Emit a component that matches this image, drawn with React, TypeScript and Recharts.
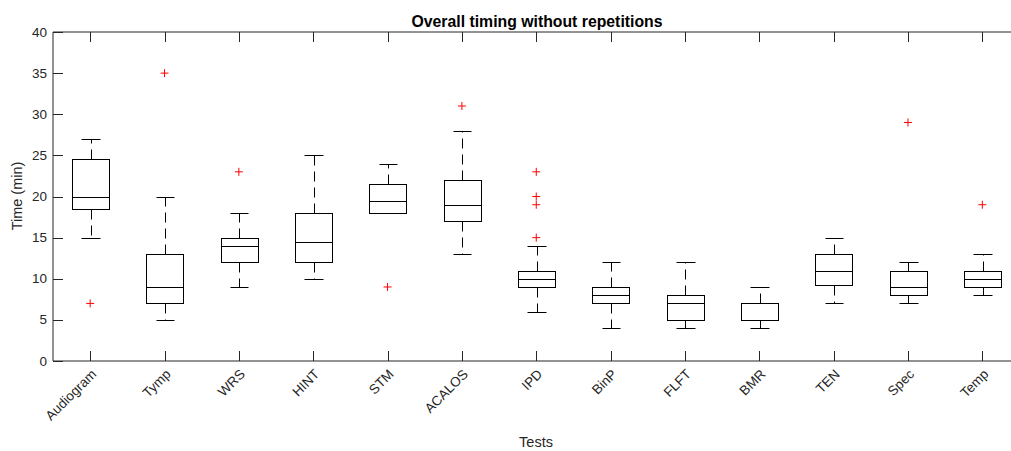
import React from "react";
import { ComposedChart, Bar, Line, XAxis, YAxis } from "recharts";

// values (minutes)
const categories = ["Audiogram", "Tymp", "WRS", "HINT", "STM", "ACALOS", "IPD", "BinP", "FLFT", "BMR", "TEN", "Spec", "Temp"];
const whiskerLow = [15, 5, 9, 10, 18, 13, 6, 4, 4, 4, 7, 7, 8];
const q1 = [18.5, 7, 12, 12, 18, 17, 9, 7, 5, 5, 9.2, 8, 9];
const median = [20, 9, 14, 14.5, 19.5, 19, 10, 8, 7, 5, 11, 9, 10];
const q3 = [24.5, 13, 15, 18, 21.5, 22, 11, 9, 8, 7, 13, 11, 11];
const whiskerHigh = [27, 20, 18, 25, 24, 28, 14, 12, 12, 9, 15, 12, 13];
const outliers = [[7], [35], [23], [], [9], [31], [23, 20, 19, 15], [], [], [], [], [29], [19]];
const yTicks = [0, 5, 10, 15, 20, 25, 30, 35, 40];

const FONT = '"Liberation Sans", Arial, sans-serif';
const INK = "#262626";
const MAX_OUT = 4;

const data = categories.map((name, i) => {
  const row: any = {
    name,
    range: [whiskerLow[i], whiskerHigh[i]],
    lo: whiskerLow[i],
    hi: whiskerHigh[i],
    q1: q1[i],
    median: median[i],
    q3: q3[i],
  };
  for (let k = 0; k < MAX_OUT; k++) row[`o${k}`] = outliers[i][k];
  return row;
});

const snap = (v: number) => Math.round(v) + 0.5;

function BoxShape(props: any) {
  const { x, y, width, height, payload } = props;
  const top = Math.min(y, y + height);
  const h = Math.abs(height);
  const k = h / (payload.hi - payload.lo);
  const py = (v: number) => snap(top + (payload.hi - v) * k);
  const cx = snap(x + width / 2);
  const left = snap(x);
  const right = snap(x + width);
  const capL = snap(x + width / 4);
  const capR = snap(x + (3 * width) / 4);
  const yHi = py(payload.hi);
  const yLo = py(payload.lo);
  const yQ3 = py(payload.q3);
  const yQ1 = py(payload.q1);
  const yMed = py(payload.median);
  return (
    <g>
      <line x1={cx} x2={cx} y1={yQ3} y2={yHi} stroke="#000" strokeDasharray="10 6" />
      <line x1={cx} x2={cx} y1={yQ1} y2={yLo} stroke="#000" strokeDasharray="10 6" />
      <line x1={capL} x2={capR} y1={yHi} y2={yHi} stroke="#000" />
      <line x1={capL} x2={capR} y1={yLo} y2={yLo} stroke="#000" />
      <rect x={left} y={yQ3} width={right - left} height={yQ1 - yQ3} fill="none" stroke="#000" />
      <line x1={left} x2={right} y1={yMed} y2={yMed} stroke="#000" />
    </g>
  );
}

function Plus(props: any) {
  const { cx, cy, value } = props;
  if (value == null || cy == null || isNaN(cy)) return <g />;
  return (
    <g>
      <line x1={cx - 4} x2={cx + 4} y1={cy} y2={cy} stroke="#ff0000" />
      <line x1={cx} x2={cx} y1={cy - 4} y2={cy + 4} stroke="#ff0000" />
    </g>
  );
}

function LeftTick(props: any) {
  const { x, y, payload } = props;
  return (
    <g>
      <line x1={x + 6} x2={x + 16} y1={snap(y)} y2={snap(y)} stroke={INK} />
      <text x={x} y={y} dy={4.5} textAnchor="end" fill={INK} fontSize={13.5} fontFamily={FONT}>
        {payload.value}
      </text>
    </g>
  );
}

function RightTick(props: any) {
  const { x, y } = props;
  return <line x1={x - 10} x2={x} y1={snap(y)} y2={snap(y)} stroke={INK} />;
}

function BottomTick(props: any) {
  const { x, y, payload } = props;
  return (
    <g>
      <line x1={snap(x)} x2={snap(x)} y1={y} y2={y - 10} stroke={INK} />
      <text
        x={x + 7}
        y={y + 14}
        textAnchor="end"
        fill={INK}
        fontSize={13.5}
        fontFamily={FONT}
        transform={`rotate(-45 ${x + 7} ${y + 14})`}
      >
        {payload.value}
      </text>
    </g>
  );
}

function TopTick(props: any) {
  const { x, y } = props;
  return <line x1={snap(x)} x2={snap(x)} y1={y} y2={y + 10} stroke={INK} />;
}

export default function App() {
  return (
    <div style={{ position: "fixed", left: 0, top: 0, width: 1011, height: 451, overflow: "hidden", background: "#fff" }}>
      <ComposedChart width={1040} height={451} data={data} margin={{ top: 31, right: 10.5, bottom: 0, left: 0 }}>
        <XAxis
          dataKey="name"
          interval={0}
          height={90}
          tickSize={0}
          tickMargin={0}
          tickLine={false}
          axisLine={{ stroke: INK }}
          tick={<BottomTick />}
        />
        <XAxis
          xAxisId="top"
          orientation="top"
          dataKey="name"
          interval={0}
          height={1}
          tickSize={0}
          tickMargin={0}
          tickLine={false}
          axisLine={{ stroke: INK }}
          tick={<TopTick />}
        />
        <YAxis
          domain={[0, 40]}
          ticks={yTicks}
          width={53}
          tickSize={0}
          tickMargin={6}
          tickLine={false}
          axisLine={{ stroke: INK }}
          tick={<LeftTick />}
          allowDataOverflow
        />
        <YAxis
          yAxisId="r"
          orientation="right"
          domain={[0, 40]}
          ticks={yTicks}
          width={10}
          tickSize={0}
          tickMargin={0}
          tickLine={false}
          axisLine={{ stroke: INK }}
          tick={<RightTick />}
        />
        <Bar dataKey="range" barSize={37} shape={<BoxShape />} isAnimationActive={false} />
        {Array.from({ length: MAX_OUT }).map((_, k) => (
          <Line
            key={k}
            dataKey={`o${k}`}
            stroke="none"
            dot={<Plus />}
            activeDot={false}
            legendType="none"
            isAnimationActive={false}
          />
        ))}
      </ComposedChart>
      <svg width={1011} height={451} style={{ position: "absolute", left: 0, top: 0, pointerEvents: "none" }}>
        <text x={537} y={26.5} textAnchor="middle" fontWeight="bold" fontSize={15.8} fontFamily={FONT} fill="#000">
          Overall timing without repetitions
        </text>
        <text
          x={22}
          y={196}
          textAnchor="middle"
          fontSize={14.5}
          fontFamily={FONT}
          fill={INK}
          transform="rotate(-90 22 196)"
        >
          Time (min)
        </text>
        <text x={536} y={447} textAnchor="middle" fontSize={14.5} fontFamily={FONT} fill={INK}>
          Tests
        </text>
      </svg>
    </div>
  );
}
